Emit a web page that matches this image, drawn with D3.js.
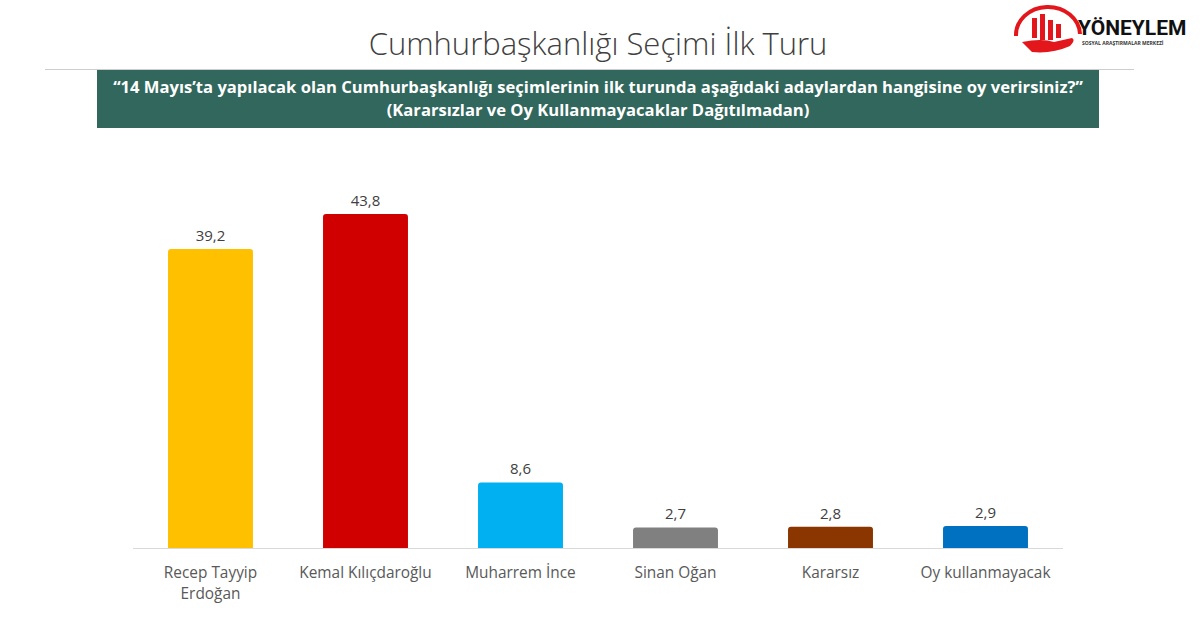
<!DOCTYPE html>
<html>
<head>
<meta charset="utf-8">
<script src="https://cdn.jsdelivr.net/npm/d3@7"></script>
<style>
  body { margin: 0; background: #fff; }
  svg { display: block; font-family: "Open Sans", "Noto Sans", sans-serif; }
</style>
</head>
<body>
<svg id="chart" width="1200" height="632"></svg>
<script>
// data
var categories = ["Recep Tayyip|Erdoğan", "Kemal Kılıçdaroğlu", "Muharrem İnce", "Sinan Oğan", "Kararsız", "Oy kullanmayacak"];
var values = [39.2, 43.8, 8.6, 2.7, 2.8, 2.9];
var barColors = ["#FFC000", "#D00000", "#00B0F0", "#808080", "#8B3500", "#0070C0"];

var title = "Cumhurbaşkanlığı Seçimi İlk Turu";
var question = ["“14 Mayıs’ta yapılacak olan Cumhurbaşkanlığı seçimlerinin ilk turunda aşağıdaki adaylardan hangisine oy verirsiniz?”",
                "(Kararsızlar ve Oy Kullanmayacaklar Dağıtılmadan)"];

var svg = d3.select("#chart");

// title
svg.append("text")
    .attr("x", 598).attr("y", 55)
    .attr("text-anchor", "middle")
    .attr("font-size", 31)
    .attr("font-weight", 300)
    .attr("fill", "#404040")
    .text(title);

svg.append("line")
    .attr("x1", 45).attr("x2", 1134)
    .attr("y1", 69.5).attr("y2", 69.5)
    .attr("stroke", "#d0cccc");

// question box
svg.append("rect")
    .attr("x", 97).attr("y", 70)
    .attr("width", 1002).attr("height", 58)
    .attr("fill", "#31675C");

svg.selectAll("text.q")
    .data(question)
    .enter().append("text")
    .attr("class", "q")
    .attr("x", 598)
    .attr("y", (d, i) => 93 + i * 23)
    .attr("text-anchor", "middle")
    .attr("font-size", 16.6)
    .attr("font-weight", "bold")
    .attr("fill", "#fff")
    .text((d) => d);

// logo (rough)
var logo = svg.append("g").attr("transform", "translate(1012,4)");
logo.append("path")
    .attr("d", "M4,32 A32,28 0 0 1 68,30")
    .attr("fill", "none").attr("stroke", "#e3161b").attr("stroke-width", 4);
[[20, 14, 20], [28, 10, 26], [36, 16, 20], [44, 20, 14]].forEach(function (b) {
    logo.append("rect").attr("x", b[0]).attr("y", b[1]).attr("width", 5).attr("height", b[2]).attr("fill", "#e3161b");
});
logo.append("path")
    .attr("d", "M10,38 Q30,34 42,38 L60,34 Q64,36 58,42 Q40,50 20,48 Z")
    .attr("fill", "#e3161b");
logo.append("text")
    .attr("x", 66).attr("y", 31)
    .attr("font-size", 21).attr("font-weight", "bold")
    .attr("font-family", "Roboto, sans-serif")
    .attr("fill", "#111")
    .text("YÖNEYLEM");
logo.append("text")
    .attr("x", 70).attr("y", 41)
    .attr("font-size", 5).attr("font-weight", "bold")
    .attr("fill", "#333")
    .text("SOSYAL ARAŞTIRMALAR MERKEZİ");

// chart
var baseline = 548;
var x = d3.scaleBand()
    .domain(categories)
    .range([133, 1063])
    .paddingInner(0.452)
    .paddingOuter(0.226);

var y = d3.scaleLinear()
    .domain([0, 43.8])
    .range([baseline, 214]);

var bars = svg.append("g").attr("class", "bars");
bars.selectAll("path")
    .data(values)
    .enter().append("path")
    .attr("d", function (d, i) {
        var x0 = x(categories[i]), w = x.bandwidth(), top = y(d), r = 3;
        return "M" + x0 + "," + baseline +
            "V" + (top + r) + "Q" + x0 + "," + top + " " + (x0 + r) + "," + top +
            "H" + (x0 + w - r) + "Q" + (x0 + w) + "," + top + " " + (x0 + w) + "," + (top + r) +
            "V" + baseline + "Z";
    })
    .attr("fill", (d, i) => barColors[i]);

// axis line
svg.append("line")
    .attr("x1", 133).attr("x2", 1063)
    .attr("y1", baseline + 0.5).attr("y2", baseline + 0.5)
    .attr("stroke", "#d9d9d9").attr("stroke-width", 1);

// value labels
svg.append("g").selectAll("text")
    .data(values)
    .enter().append("text")
    .attr("x", (d, i) => x(categories[i]) + x.bandwidth() / 2)
    .attr("y", (d) => y(d) - 8)
    .attr("text-anchor", "middle")
    .attr("font-size", 15)
    .attr("fill", "#404040")
    .text((d) => d3.format(".1f")(d).replace(".", ","));

// category labels
var cat = svg.append("g").selectAll("text")
    .data(categories)
    .enter().append("text")
    .attr("x", (d) => x(d) + x.bandwidth() / 2)
    .attr("y", 578)
    .attr("text-anchor", "middle")
    .attr("font-size", 15.4)
    .attr("fill", "#595959");
cat.selectAll("tspan")
    .data((d) => d.split("|"))
    .enter().append("tspan")
    .attr("x", function () { return d3.select(this.parentNode).attr("x"); })
    .attr("dy", (d, i) => i ? 21 : 0)
    .text((d) => d);
</script>
</body>
</html>
